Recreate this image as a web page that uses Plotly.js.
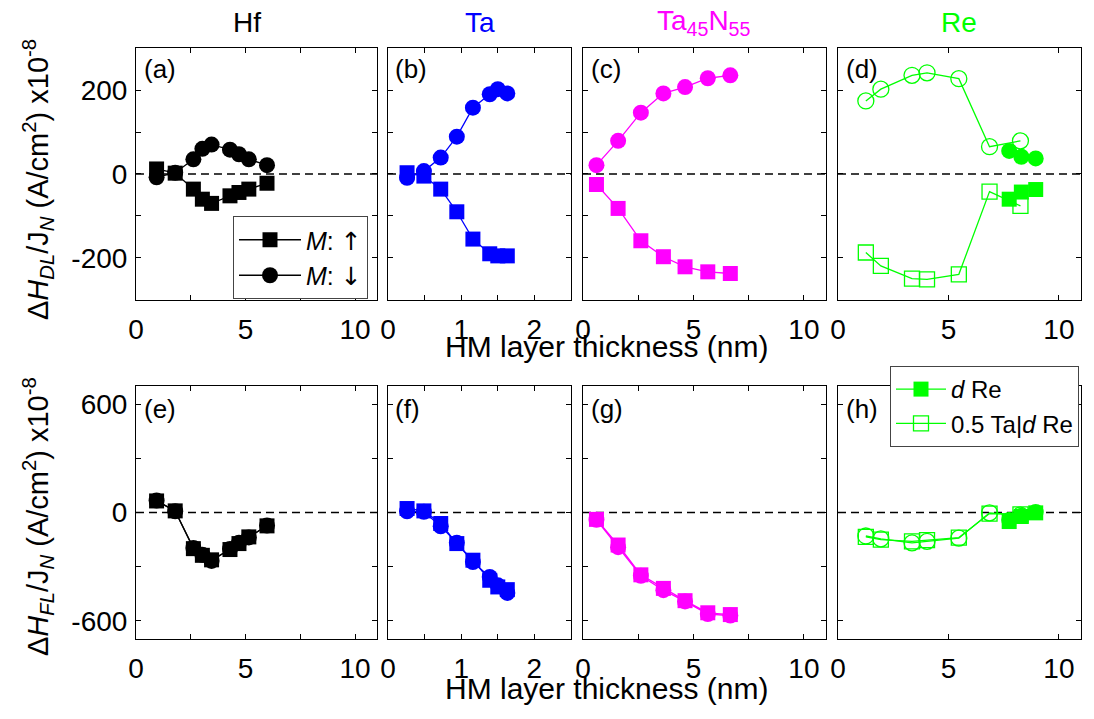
<!DOCTYPE html>
<html>
<head>
<meta charset="utf-8">
<script src="https://cdn.plot.ly/plotly-3.0.1.min.js"></script>
<style>html,body{margin:0;padding:0;background:#fff;}#plot{width:1094px;height:719px;}</style>
</head>
<body>
<div id="plot"></div>
<script>
// ---------------- DATA ----------------
// Hf
const hfThick   = [0.94, 1.79, 2.62, 3.03, 3.45, 4.29, 4.70, 5.15, 5.98];
const hfDLup    = [12, 2, -36, -60, -70, -52, -44, -36, -22];
const hfDLdown  = [-8, 3, 35, 60, 70, 58, 47, 35, 21];
const hfFLup    = [64, 9, -200, -237, -262, -205, -172, -135, -74];
const hfFLdown  = [66, 7, -196, -234, -268, -202, -168, -138, -72];
// Ta
const taThick   = [0.26, 0.49, 0.72, 0.94, 1.16, 1.39, 1.50, 1.63];
const taDLup    = [3, -5, -36, -90, -155, -190, -195, -195];
const taDLdown  = [-9, 7, 39, 89, 158, 190, 202, 192];
const taFLup    = [22, 9, -61, -172, -264, -375, -412, -427];
const taFLdown  = [7, 4, -76, -168, -274, -357, -403, -445];
// Ta45N55
const tanThick  = [0.61, 1.59, 2.62, 3.64, 4.62, 5.65, 6.67];
const tanDLup   = [-25, -82, -159, -197, -221, -233, -237];
const tanDLdown = [21, 79, 146, 192, 207, 228, 235];
const tanFLup   = [-38, -180, -345, -420, -488, -555, -565];
const tanFLdown = [-40, -192, -350, -430, -492, -562, -570];
// Re : d Re (filled)
const reThick     = [7.75, 8.30, 8.95];
const reDLup      = [-60, -43, -37];
const reDLdown    = [55, 41, 37];
const reFLup      = [-50, -22, -2];
const reFLdown    = [-42, -18, 3];
// Re : 0.5 Ta | d Re (open)
const taReThick   = [1.26, 1.94, 3.35, 4.03, 5.47, 6.86, 8.26];
const taReDLup    = [-187, -219, -249, -251, -239, -42, -76];
const taReDLdown  = [174, 202, 235, 241, 227, 65, 79];
const taReFLup    = [-135, -150, -160, -153, -139, -6, -10];
const taReFLdown  = [-130, -146, -168, -160, -142, -2, -14];

// ticks (major labelled, minor unlabelled)
const tickX10 = [0, 5, 10];        const tickX10Txt = ['0', '5', '10'];   const minorX10 = [2.5, 7.5];
const tickX2  = [0, 1, 2];         const tickX2Txt  = ['0', '1', '2'];    const minorX2  = [0.5, 1.5];
const tickXRe = [0, 5, 10];        const tickXReTxt = ['0', '5', '10'];   const minorXRe = [];
const tickDL  = [-200, 0, 200];    const tickDLTxt  = ['-200', '0', '200']; const minorDL = [-100, 100];
const minorDLRe = [];
const tickFL  = [-600, 0, 600];    const tickFLTxt  = ['-600', '0', '600']; const minorFL = [-300, 300];
const minorFLRe = [];

const columnTitles = ['Hf', 'Ta', 'Ta<sub>45</sub>N<sub>55</sub>', 'Re'];
const panelLetters = ['(a)', '(b)', '(c)', '(d)', '(e)', '(f)', '(g)', '(h)'];
const legendNames = ['<i>M</i>: <span style="font-family:DejaVu Sans">↑</span>',
                     '<i>M</i>: <span style="font-family:DejaVu Sans">↓</span>',
                     '<i>d</i> Re', '0.5 Ta|<i>d</i> Re'];

// ---------------- STYLE ----------------
const BLACK = '#000000', BLUE = '#0000ff', MAG = '#ff00ff', GREEN = '#00ff00';
const FONT = 'Liberation Sans, Arial, sans-serif';
const MS = 16, LW = 1.3;

function tr(x, y, n, color, symbol, name, legend, showlegend) {
  const open = symbol.indexOf('open') >= 0;
  return {
    type: 'scatter', mode: 'lines+markers', x: x, y: y,
    xaxis: 'x' + (n === 1 ? '' : n), yaxis: 'y' + (n === 1 ? '' : n),
    name: name, legend: legend || 'legend', showlegend: !!showlegend,
    line: {color: color, width: LW},
    marker: {symbol: symbol, size: symbol.indexOf('square') >= 0 ? MS - 1 : MS,
             color: color, line: {color: color, width: open ? 1.3 : 0}}
  };
}

const traces = [
  tr(hfThick, hfDLup, 1, BLACK, 'square', legendNames[0], 'legend', true),
  tr(hfThick, hfDLdown, 1, BLACK, 'circle', legendNames[1], 'legend', true),
  tr(taThick, taDLup, 2, BLUE, 'square'),
  tr(taThick, taDLdown, 2, BLUE, 'circle'),
  tr(tanThick, tanDLup, 3, MAG, 'square'),
  tr(tanThick, tanDLdown, 3, MAG, 'circle'),
  tr(reThick, reDLup, 4, GREEN, 'square', legendNames[2], 'legend2', true),
  tr(taReThick, taReDLup, 4, GREEN, 'square-open', legendNames[3], 'legend2', true),
  tr(reThick, reDLdown, 4, GREEN, 'circle'),
  tr(taReThick, taReDLdown, 4, GREEN, 'circle-open'),
  tr(hfThick, hfFLup, 5, BLACK, 'square'),
  tr(hfThick, hfFLdown, 5, BLACK, 'circle'),
  tr(taThick, taFLup, 6, BLUE, 'square'),
  tr(taThick, taFLdown, 6, BLUE, 'circle'),
  tr(tanThick, tanFLup, 7, MAG, 'square'),
  tr(tanThick, tanFLdown, 7, MAG, 'circle'),
  tr(taReThick, taReFLup, 8, GREEN, 'square-open'),
  tr(taReThick, taReFLdown, 8, GREEN, 'circle-open'),
  tr(reThick, reFLup, 8, GREEN, 'square'),
  tr(reThick, reFLdown, 8, GREEN, 'circle')
];

// ---------------- LAYOUT ----------------
const xDom = [[0.1243, 0.3446], [0.3547, 0.5219], [0.5329, 0.7550], [0.7660, 0.9881]];
const yDomTop = [0.5828, 0.9332], yDomBot = [0.1113, 0.4631];
const xRanges = [[0, 11], [0, 2.5], [0, 11], [0, 11]];
const xTicks = [[tickX10, tickX10Txt, minorX10], [tickX2, tickX2Txt, minorX2],
                [tickX10, tickX10Txt, minorX10], [tickXRe, tickXReTxt, minorXRe]];

const layout = {
  width: 1094, height: 719,
  margin: {l: 0, r: 0, t: 0, b: 0},
  paper_bgcolor: '#ffffff', plot_bgcolor: '#ffffff',
  font: {family: FONT, size: 28, color: '#000'},
  legend: {x: 233 / 1094, y: 1 - 216 / 719, xanchor: 'left', yanchor: 'top',
           bgcolor: '#ffffff', bordercolor: '#444', borderwidth: 1,
           font: {size: 25, family: FONT, color: '#000'}, tracegroupgap: 0, itemwidth: 62},
  legend2: {x: 890 / 1094, y: 1 - 366 / 719, xanchor: 'left', yanchor: 'top',
            bgcolor: '#ffffff', bordercolor: '#444', borderwidth: 1,
            font: {size: 24, family: FONT, color: '#000'}, tracegroupgap: 0, itemwidth: 50},
  shapes: [], annotations: []
};

for (let i = 0; i < 8; i++) {
  const n = i + 1, col = i % 4, top = i < 4;
  const sfx = n === 1 ? '' : String(n);
  const yMinor = top ? (col === 3 ? minorDLRe : minorDL) : (col === 3 ? minorFLRe : minorFL);
  layout['xaxis' + sfx] = {
    domain: xDom[col], anchor: 'y' + sfx, range: xRanges[col],
    tickmode: 'array', tickvals: xTicks[col][0], ticktext: xTicks[col][1],
    minor: {tickmode: 'array', tickvals: xTicks[col][2], ticks: 'inside', ticklen: 5, tickwidth: 1, tickcolor: '#000', showgrid: false},
    ticks: 'inside', ticklen: 5, tickwidth: 1, tickcolor: '#000',
    showline: true, linecolor: '#000', linewidth: 1, mirror: 'allticks',
    showgrid: false, zeroline: false, ticklabelstandoff: 4,
    tickfont: {size: 28, family: FONT, color: '#000'}
  };
  layout['yaxis' + sfx] = {
    domain: top ? yDomTop : yDomBot, anchor: 'x' + sfx,
    range: top ? [-300, 300] : [-700, 700],
    tickmode: 'array', tickvals: top ? tickDL : tickFL, ticktext: top ? tickDLTxt : tickFLTxt,
    minor: {tickmode: 'array', tickvals: yMinor, ticks: 'inside', ticklen: 5, tickwidth: 1, tickcolor: '#000', showgrid: false},
    ticks: 'inside', ticklen: 5, tickwidth: 1, tickcolor: '#000',
    showline: true, linecolor: '#000', linewidth: 1, mirror: 'allticks',
    showgrid: false, zeroline: false, showticklabels: col === 0, ticklabelstandoff: 2,
    tickfont: {size: 28, family: FONT, color: '#000'}
  };
  layout.shapes.push({type: 'line', xref: 'x' + sfx + ' domain', x0: 0, x1: 1,
    yref: 'y' + sfx, y0: 0, y1: 0, layer: 'below',
    line: {color: '#000', width: 1.5, dash: '8px,5px'}});
  layout.annotations.push({text: panelLetters[i], showarrow: false,
    xref: 'x' + sfx + ' domain', yref: 'y' + sfx + ' domain',
    x: 0.025, y: top ? 0.985 : 0.975, xanchor: 'left', yanchor: 'top',
    font: {size: 26, family: FONT, color: '#000'}});
}

const titleColors = [BLACK, BLUE, MAG, GREEN];
for (let c = 0; c < 4; c++) {
  layout.annotations.push({text: columnTitles[c], showarrow: false,
    xref: (c === 0 ? 'x' : 'x' + (c + 1)) + ' domain', yref: 'paper',
    x: c === 0 ? 0.46 : 0.5, y: 1 - 22 / 719, xanchor: 'center', yanchor: 'middle',
    font: {size: 28, family: FONT, color: titleColors[c]}});
}

const xTitle = 'HM layer thickness (nm)';
layout.annotations.push({text: xTitle, showarrow: false, xref: 'paper', yref: 'paper',
  x: 606 / 1094, y: 1 - 346 / 719, xanchor: 'center', yanchor: 'middle',
  font: {size: 30, family: FONT}});
layout.annotations.push({text: xTitle, showarrow: false, xref: 'paper', yref: 'paper',
  x: 606 / 1094, y: 1 - 688 / 719, xanchor: 'center', yanchor: 'middle',
  font: {size: 30, family: FONT}});

layout.annotations.push({text: 'Δ<i>H</i><sub><i>DL</i></sub>/J<sub><i>N</i></sub> (A/cm<sup>2</sup>) x10<sup>-8</sup>',
  showarrow: false, xref: 'paper', yref: 'paper', textangle: -90,
  x: 38 / 1094, y: 1 - 180 / 719, xanchor: 'center', yanchor: 'middle',
  font: {size: 29, family: FONT}});
layout.annotations.push({text: 'Δ<i>H</i><sub><i>FL</i></sub>/J<sub><i>N</i></sub> (A/cm<sup>2</sup>) x10<sup>-8</sup>',
  showarrow: false, xref: 'paper', yref: 'paper', textangle: -90,
  x: 38 / 1094, y: 1 - 517 / 719, xanchor: 'center', yanchor: 'middle',
  font: {size: 29, family: FONT}});

Plotly.newPlot('plot', traces, layout, {displayModeBar: false, staticPlot: true});
</script>
</body>
</html>
